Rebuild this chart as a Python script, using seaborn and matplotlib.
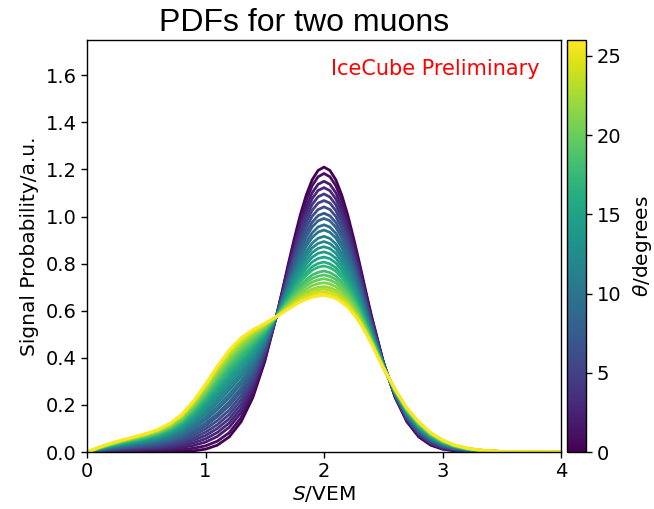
import matplotlib
matplotlib.use("Agg")
import matplotlib.pyplot as plt
import pandas as pd
import seaborn as sns
from matplotlib.colors import Normalize
from matplotlib.cm import ScalarMappable

# Signal in vertical-equivalent muons (x axis sampling, finer around the peak)
signal_vem = [0.0, 0.1, 0.2, 0.3, 0.4, 0.5, 0.6, 0.7, 0.8, 0.9,
              1.0, 1.1, 1.2, 1.3, 1.4, 1.5, 1.6,
              1.65, 1.7, 1.75, 1.8, 1.85, 1.9, 1.95, 2.0, 2.05, 2.1, 2.15, 2.2, 2.25, 2.3, 2.35,
              2.4, 2.5, 2.6, 2.7, 2.8, 2.9, 3.0, 3.1, 3.2, 3.3, 3.4, 3.5, 3.6, 4.0]

# Zenith angle of each curve, degrees
theta_deg = [0, 1, 2, 3, 4, 5, 6, 7, 8, 9, 10, 11, 12, 13,
             14, 15, 16, 17, 18, 19, 20, 21, 22, 23, 24, 25, 26]

# Two-muon signal PDF for each zenith angle
pdf_00 = [0, 0, 0, 0, 0, 0, 0, 0, .002, .005, .012, .029, .064, .128, .232, .384, .580,
          .689, .801, .908, 1.007, 1.091, 1.156, 1.196, 1.210, 1.196, 1.156, 1.091, 1.007, .908, .801, .689,
          .580, .384, .232, .128, .064, .029, .012, .005, .002, 0, 0, 0, 0, 0]
pdf_01 = [0, .001, .002, .003, .003, .004, .005, .006, .010, .016, .026, .046, .082, .146, .246, .392, .580,
          .684, .791, .894, .988, 1.069, 1.131, 1.169, 1.183, 1.169, 1.131, 1.068, .987, .892, .788, .680,
          .574, .383, .234, .131, .067, .032, .014, .006, .003, 0, 0, 0, 0, 0]
pdf_02 = [0, .002, .004, .006, .007, .009, .011, .013, .019, .028, .042, .066, .105, .167, .264, .402, .579,
          .678, .780, .877, .966, 1.042, 1.101, 1.137, 1.150, 1.137, 1.101, 1.041, .964, .872, .773, .669,
          .567, .381, .236, .134, .071, .035, .016, .008, .004, .001, .001, 0, 0, 0]
pdf_03 = [0, .003, .006, .008, .010, .013, .015, .020, .027, .039, .056, .083, .123, .185, .278, .410, .579,
          .673, .770, .862, .948, 1.020, 1.076, 1.111, 1.123, 1.110, 1.075, 1.018, .944, .856, .761, .660,
          .561, .380, .237, .137, .074, .038, .018, .009, .004, .001, .001, 0, 0, 0]
pdf_04 = [0, .004, .008, .011, .014, .017, .020, .026, .035, .050, .070, .100, .141, .203, .292, .418, .579,
          .668, .760, .848, .929, .998, 1.051, 1.084, 1.096, 1.083, 1.050, .995, .925, .840, .748, .651,
          .555, .379, .239, .140, .077, .040, .020, .010, .005, .002, .001, 0, 0, 0]
pdf_05 = [0, .005, .010, .014, .017, .021, .025, .032, .043, .060, .084, .116, .160, .221, .307, .426, .579,
          .664, .751, .834, .911, .976, 1.026, 1.057, 1.068, 1.057, 1.025, .972, .905, .824, .736, .642,
          .549, .377, .241, .143, .081, .043, .022, .012, .006, .002, .001, .001, 0, 0]
pdf_06 = [0, .006, .011, .016, .020, .024, .030, .038, .051, .071, .098, .133, .178, .239, .321, .435, .578,
          .659, .741, .819, .892, .954, 1.001, 1.030, 1.041, 1.030, 1.000, .950, .885, .808, .723, .633,
          .543, .376, .243, .146, .084, .046, .024, .013, .007, .003, .002, .001, 0, 0]
pdf_07 = [0, .007, .013, .019, .023, .028, .035, .044, .059, .082, .111, .150, .197, .257, .336, .443, .578,
          .654, .731, .805, .874, .932, .976, 1.004, 1.014, 1.003, .975, .927, .866, .792, .711, .623,
          .537, .375, .244, .149, .087, .048, .026, .014, .007, .003, .002, .001, 0, 0]
pdf_08 = [0, .008, .015, .021, .026, .032, .038, .049, .065, .090, .122, .163, .212, .271, .347, .449, .578,
          .650, .723, .794, .859, .914, .956, .982, .992, .982, .954, .909, .850, .779, .701, .616,
          .532, .374, .246, .152, .090, .051, .028, .015, .008, .004, .002, .001, 0, 0]
pdf_09 = [0, .009, .017, .023, .029, .036, .043, .055, .073, .101, .136, .180, .230, .289, .362, .457, .578,
          .645, .714, .779, .840, .892, .931, .956, .965, .955, .929, .886, .831, .763, .688, .607,
          .526, .372, .247, .155, .093, .053, .030, .016, .009, .004, .002, .001, 0, 0]
pdf_10 = [0, .010, .018, .025, .032, .039, .047, .060, .079, .109, .147, .194, .245, .303, .373, .464, .578,
          .641, .706, .768, .826, .874, .911, .934, .943, .933, .909, .868, .815, .750, .678, .600,
          .521, .371, .249, .157, .095, .055, .031, .017, .009, .004, .002, .001, 0, 0]
pdf_11 = [0, .011, .020, .028, .035, .043, .052, .066, .087, .120, .161, .210, .263, .321, .388, .472, .577,
          .636, .696, .754, .807, .852, .887, .908, .916, .907, .884, .845, .795, .734, .665, .591,
          .515, .370, .250, .160, .099, .058, .033, .019, .010, .005, .003, .001, .001, 0]
pdf_12 = [0, .012, .021, .030, .038, .046, .056, .071, .094, .129, .172, .224, .278, .335, .399, .479, .577,
          .632, .688, .742, .792, .834, .867, .886, .894, .885, .864, .827, .780, .721, .655, .583,
          .510, .369, .252, .162, .101, .060, .035, .020, .011, .005, .003, .001, .001, 0]
pdf_13 = [0, .012, .023, .032, .040, .049, .060, .076, .100, .137, .183, .237, .293, .349, .411, .485, .577,
          .628, .681, .731, .778, .816, .847, .865, .872, .864, .844, .808, .764, .708, .645, .576,
          .506, .368, .253, .165, .104, .062, .036, .021, .011, .006, .003, .001, .001, 0]
pdf_14 = [0, .013, .024, .034, .043, .052, .063, .081, .106, .146, .194, .251, .308, .364, .422, .492, .577,
          .624, .673, .719, .763, .799, .827, .844, .850, .842, .823, .790, .748, .695, .635, .569,
          .501, .367, .254, .167, .106, .065, .038, .022, .012, .006, .003, .001, .001, 0]
pdf_15 = [0, .014, .026, .036, .046, .055, .067, .085, .113, .154, .205, .264, .322, .378, .434, .498, .576,
          .620, .665, .708, .748, .781, .807, .822, .828, .821, .803, .772, .733, .682, .625, .562,
          .496, .366, .256, .169, .109, .067, .039, .023, .013, .006, .004, .001, .001, 0]
pdf_16 = [0, .015, .027, .038, .048, .058, .071, .090, .119, .163, .216, .278, .337, .392, .445, .505, .576,
          .616, .657, .696, .733, .763, .787, .801, .807, .799, .783, .754, .717, .669, .615, .554,
          .491, .365, .257, .172, .111, .069, .041, .024, .013, .007, .004, .001, .001, 0]
pdf_17 = [0, .015, .028, .040, .050, .061, .074, .094, .124, .169, .225, .288, .348, .403, .454, .510, .576,
          .614, .652, .688, .722, .750, .772, .785, .790, .783, .768, .740, .705, .659, .608, .549,
          .488, .364, .258, .173, .113, .071, .042, .024, .014, .007, .004, .002, .001, 0]
pdf_18 = [0, .016, .030, .042, .053, .064, .078, .099, .130, .178, .236, .301, .363, .417, .465, .516, .576,
          .610, .644, .676, .707, .732, .752, .763, .769, .762, .748, .722, .689, .646, .598, .542,
          .483, .363, .260, .176, .116, .073, .044, .025, .014, .007, .004, .002, .001, 0]
pdf_19 = [0, .017, .031, .044, .055, .066, .081, .102, .135, .184, .244, .311, .374, .428, .474, .521, .576,
          .607, .638, .668, .696, .719, .737, .747, .752, .746, .733, .708, .678, .637, .590, .536,
          .479, .362, .261, .178, .118, .074, .045, .026, .015, .008, .004, .002, .001, 0]
pdf_20 = [0, .017, .032, .045, .057, .069, .084, .106, .139, .190, .252, .321, .385, .439, .483, .526, .576,
          .604, .632, .659, .685, .706, .722, .731, .736, .730, .718, .694, .666, .627, .583, .531,
          .476, .361, .262, .179, .120, .076, .046, .027, .015, .008, .004, .002, .001, 0]
pdf_21 = [0, .018, .033, .047, .059, .071, .086, .110, .144, .197, .260, .331, .396, .449, .491, .531, .575,
          .601, .626, .651, .674, .692, .707, .715, .719, .714, .702, .681, .654, .617, .575, .525,
          .472, .361, .263, .181, .122, .078, .047, .028, .016, .008, .005, .002, .001, 0]
pdf_22 = [0, .019, .034, .048, .060, .073, .089, .113, .149, .203, .269, .341, .407, .460, .500, .536, .575,
          .598, .621, .642, .663, .679, .692, .699, .703, .698, .687, .667, .642, .608, .568, .520,
          .468, .360, .264, .183, .124, .079, .048, .028, .016, .008, .005, .002, .001, 0]
pdf_23 = [0, .019, .035, .049, .062, .075, .091, .116, .152, .207, .274, .348, .415, .467, .506, .539, .575,
          .596, .617, .636, .655, .670, .682, .689, .692, .687, .677, .658, .635, .601, .563, .516,
          .466, .359, .264, .184, .125, .080, .049, .029, .016, .009, .005, .002, .001, 0]
pdf_24 = [0, .019, .036, .050, .063, .077, .093, .118, .155, .212, .280, .355, .422, .474, .511, .542, .575,
          .594, .613, .631, .648, .661, .672, .678, .681, .676, .667, .649, .627, .595, .558, .512,
          .464, .359, .265, .185, .126, .081, .050, .029, .017, .009, .005, .002, .001, 0]
pdf_25 = [0, .020, .037, .051, .064, .078, .095, .121, .158, .216, .285, .362, .429, .481, .517, .545, .575,
          .592, .609, .625, .641, .652, .662, .667, .670, .665, .657, .640, .619, .588, .553, .509,
          .461, .358, .266, .186, .127, .082, .051, .030, .017, .009, .005, .002, .001, 0]
pdf_26 = [0, .020, .037, .052, .065, .079, .096, .122, .160, .218, .288, .365, .433, .485, .520, .547, .575,
          .591, .607, .622, .637, .648, .657, .662, .665, .660, .652, .635, .615, .585, .550, .507,
          .460, .358, .266, .187, .128, .083, .051, .030, .017, .009, .005, .002, .001, 0]

pdf_curves = [pdf_00, pdf_01, pdf_02, pdf_03, pdf_04, pdf_05, pdf_06, pdf_07, pdf_08,
              pdf_09, pdf_10, pdf_11, pdf_12, pdf_13, pdf_14, pdf_15, pdf_16, pdf_17,
              pdf_18, pdf_19, pdf_20, pdf_21, pdf_22, pdf_23, pdf_24, pdf_25, pdf_26]

x_ticks = [0, 1, 2, 3, 4]
y_ticks = [0.0, 0.2, 0.4, 0.6, 0.8, 1.0, 1.2, 1.4, 1.6]
cbar_ticks = [0, 5, 10, 15, 20, 25]

# Long-form table: one row per (angle, signal) sample
frames = [pd.DataFrame({"S": signal_vem, "pdf": pdf, "theta": theta})
          for theta, pdf in zip(theta_deg, pdf_curves)]
df = pd.concat(frames, ignore_index=True)

sns.set_style("white")
plt.rcParams["font.family"] = ["DejaVu Sans"]
plt.rcParams["axes.edgecolor"] = "black"
plt.rcParams["xtick.color"] = "black"
plt.rcParams["ytick.color"] = "black"
plt.rcParams["text.color"] = "black"
plt.rcParams["axes.labelcolor"] = "black"
plt.rcParams["mathtext.fontset"] = "dejavusans"

fig = plt.figure(figsize=(6.54, 5.09), dpi=100)
ax = fig.add_axes([87 / 654, 1 - 452 / 509, 474 / 654, 412 / 509])

norm = Normalize(vmin=0, vmax=26)
sns.lineplot(data=df, x="S", y="pdf", hue="theta", units="theta", estimator=None,
             palette="viridis", hue_norm=norm, linewidth=2.0, legend=False, ax=ax)

ax.set_xlim(0, 4)
ax.set_ylim(0, 1.75)
ax.set_xticks(x_ticks)
ax.set_yticks(y_ticks)
ax.set_xticklabels([str(t) for t in x_ticks])
ax.set_yticklabels([f"{t:.1f}" for t in y_ticks])
ax.tick_params(axis="both", which="major", labelsize=14, length=4, width=1,
               direction="out", bottom=True, left=True)
for side in ax.spines.values():
    side.set_visible(True)
    side.set_color("black")
    side.set_linewidth(1.0)
ax.set_xlabel("$S$/VEM", fontsize=14.5, labelpad=2)
ax.set_ylabel("Signal Probability/a.u.", fontsize=14.5, labelpad=5)

ax.text(0.955, 0.915, "IceCube Preliminary", color="red", fontsize=15,
        ha="right", va="baseline", transform=ax.transAxes)

fig.text(304 / 654, 1 - 31 / 509, "PDFs for two muons", fontsize=23,
         family=["Liberation Sans", "DejaVu Sans"], ha="center", va="baseline")

cax = fig.add_axes([567 / 654, 1 - 452 / 509, 19 / 654, 412 / 509])
sm = ScalarMappable(norm=norm, cmap="viridis")
cbar = fig.colorbar(sm, cax=cax, ticks=cbar_ticks)
cbar.ax.tick_params(labelsize=14, length=4, width=1, colors="black")
cbar.outline.set_edgecolor("black")
cbar.outline.set_linewidth(1.0)
cbar.set_label(r"$\theta$/degrees", fontsize=14.5, labelpad=7)

fig.savefig("out.png", dpi=100)
